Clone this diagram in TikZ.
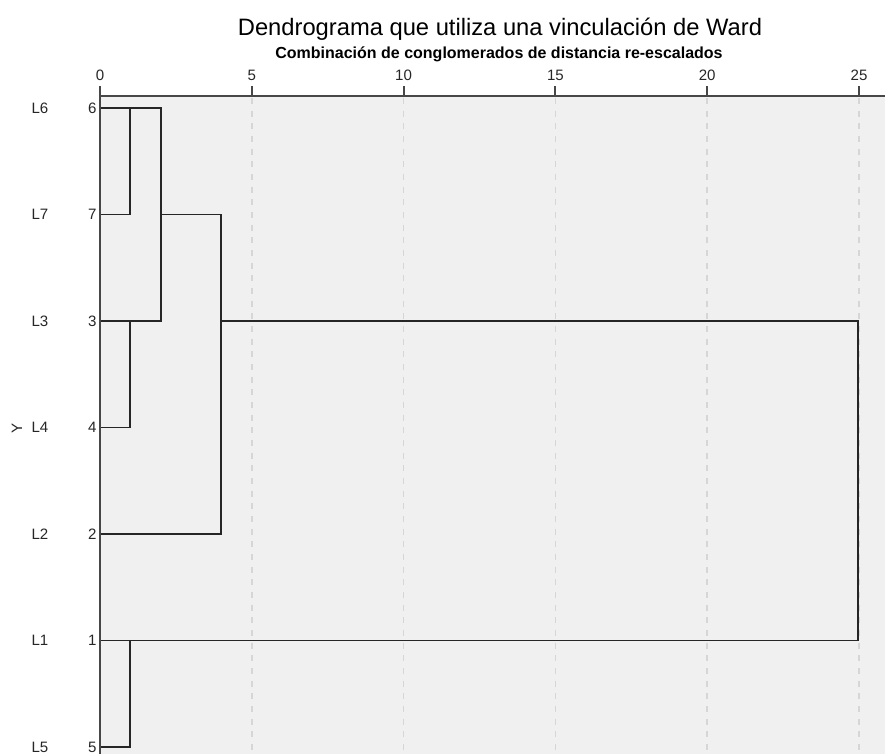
\documentclass[tikz,border=0pt]{standalone}
\usepackage{fontspec}
\setmainfont{Liberation Sans}
\definecolor{plotbg}{HTML}{F0F0F0}
\definecolor{gridgray}{HTML}{D6D6D6}
\definecolor{axisgray}{HTML}{474747}
\definecolor{linkgray}{HTML}{262626}
\tikzset{
  link/.style={linkgray, line width=1.3pt},
  axisline/.style={axisgray, line width=1.5pt},
  gridline/.style={gridgray, line width=1.1pt, dash pattern=on 4.5pt off 5pt},
  ticklabel/.style={font=\fontsize{11.3}{13}\selectfont, anchor=base, text=black!85},
  rowlabel/.style={font=\fontsize{11.3}{13}\selectfont, text=black!85, inner sep=0pt}
}
\begin{document}
\begin{tikzpicture}[x=0.75pt, y=-0.75pt]
\useasboundingbox (0,0) rectangle (885,754);
\fill[plotbg] (100,96) rectangle (885,754);

\node[font=\fontsize{17.8}{21}\selectfont, anchor=base] (title) at (500,35)
  {Dendrograma que utiliza una vinculación de Ward};
\node[font=\bfseries\fontsize{12}{14}\selectfont, anchor=base] (subtitle) at (499,58)
  {Combinación de conglomerados de distancia re-escalados};

\begin{scope}[shift={(100,0)}, xscale=30.36]
  % distance scale
  \foreach \d in {5,10,...,25}
    \draw[gridline] (\d,98) -- (\d,754);
  \foreach \d in {0,5,...,25} {
    \draw[axisline] (\d,96) -- (\d,86);
    \node[ticklabel] (t\d) at (\d,80) {\d};
  }
  \coordinate (d1) at (1,0);
  \coordinate (d2) at (2,0);
  \coordinate (d4) at (4,0);
  \coordinate (d25) at (25,0);

  % leaves
  \foreach \num [count=\i from 0] in {6,7,3,4,2,1,5}
    \coordinate (c\num) at (0,{108+106.5*\i});

  % merges
  \draw[link] (c6) -| (d1 |- c7) -- (c7);
  \draw[link] (c3) -| (d1 |- c4) -- (c4);
  \draw[link] (c1) -| (d1 |- c5) -- (c5);
  \draw[link] (d1 |- c6) -| (d2 |- c3) -- (d1 |- c3);
  \draw[link] (d2 |- c7) -| (d4 |- c2) -- (c2);
  \draw[link] (d4 |- c3) -| (d25 |- c1) -- (d1 |- c1);
\end{scope}

\foreach \lab/\num in {L6/6,L7/7,L3/3,L4/4,L2/2,L1/1,L5/5} {
  \node[rowlabel, anchor=east] (n\num) at ([xshift=-2.5pt]c\num) {\num};
  \node[rowlabel, anchor=west] (l\num) at ([xshift=-51.5pt]c\num) {\lab};
}

\draw[axisline] (100,96) -- (885,96);
\draw[axisline] (100,96) -- (100,754);
\node[rowlabel, rotate=90] (ylab) at (17,428) {Y};
\end{tikzpicture}
\end{document}
